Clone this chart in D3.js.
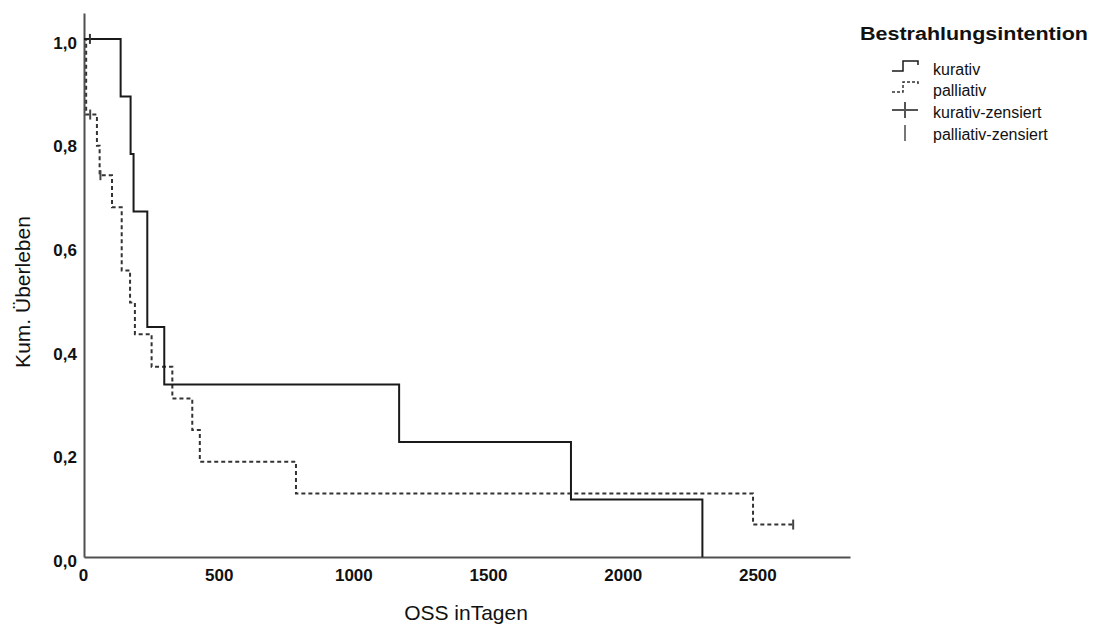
<!DOCTYPE html>
<html>
<head>
<meta charset="utf-8">
<script src="https://cdn.jsdelivr.net/npm/d3@7"></script>
<style>
  body { margin: 0; background: #fff; }
  svg text { font-family: "Liberation Sans", Arial, sans-serif; fill: #111; }
</style>
</head>
<body>
<div id="chart"></div>
<script>
// Kaplan-Meier steps
var kurTimes = [0, 136, 173, 184, 235, 235, 298, 1170, 1808, 2296];
var kurSurv  = [1, 0.889, 0.778, 0.667, 0.556, 0.444, 0.333, 0.222, 0.111, 0];
var palTimes = [0, 8, 48, 58, 104, 140, 171, 189, 251, 328, 402, 430, 787, 2484, 2633];
var palSurv  = [1, 0.854, 0.794, 0.737, 0.675, 0.553, 0.491, 0.430, 0.367, 0.306, 0.245, 0.184, 0.1225, 0.0626, 0.0626];

// censored cases
var kurCensTimes = [22];
var kurCensSurv  = [1];
var palCensTimes = [23, 61, 2633];
var palCensSurv  = [0.854, 0.737, 0.0626];

var xTicks = [0, 500, 1000, 1500, 2000, 2500];
var yTicks = [0, 0.2, 0.4, 0.6, 0.8, 1.0];
var legendLabels = ['kurativ', 'palliativ', 'kurativ-zensiert', 'palliativ-zensiert'];

var W = 1095, H = 628;
var plot = { left: 84, right: 850, top: 13, bottom: 557 };

var svg = d3.select('#chart')
  .append('svg')
  .attr('width', W)
  .attr('height', H);

//scales
var xScale = d3.scaleLinear()
  .domain([0, 2844])
  .range([plot.left, plot.right]);

var yScale = d3.scaleLinear()
  .domain([0, 1.05])
  .range([plot.bottom, plot.top]);

var fmt = function (d) { return d3.format('.1f')(d).replace('.', ','); };

//y axis
var axisY = d3.axisLeft(yScale)
  .tickValues(yTicks)
  .tickSize(0)
  .tickPadding(7)
  .tickFormat(fmt);

var gy = svg.append('g')
  .attr('transform', 'translate(' + plot.left + ',0)')
  .call(axisY);
gy.selectAll('text')
  .attr('dy', '0.72em')
  .attr('y', -3)
  .style('font-size', '17px')
  .style('font-weight', 'bold');

//x axis
var axisX = d3.axisBottom(xScale)
  .tickValues(xTicks)
  .tickSize(0)
  .tickPadding(12)
  .tickFormat(d3.format('d'));

var gx = svg.append('g')
  .attr('transform', 'translate(0,' + plot.bottom + ')')
  .call(axisX);
gx.selectAll('text')
  .style('font-size', '17px')
  .style('font-weight', 'bold');
gx.selectAll('.tick').filter(function (d) { return d === 0; })
  .select('text').attr('x', -1);

svg.selectAll('.domain')
  .attr('stroke', '#505050')
  .attr('stroke-width', 2);

//axis titles
svg.append('text')
  .attr('x', (plot.left + plot.right) / 2 - 1)
  .attr('y', 620)
  .attr('text-anchor', 'middle')
  .style('font-size', '21px')
  .text('OSS inTagen');

svg.append('text')
  .attr('transform', 'translate(30,' + 292 + ') rotate(-90)')
  .attr('text-anchor', 'middle')
  .style('font-size', '21px')
  .text('Kum. Überleben');

//curves
var step = d3.line()
  .x(function (d) { return xScale(d[0]); })
  .y(function (d) { return yScale(d[1]); })
  .curve(d3.curveStepAfter);

var kurData = d3.zip(kurTimes, kurSurv);
var palData = d3.zip(palTimes, palSurv);

svg.append('path')
  .attr('d', step(palData))
  .attr('fill', 'none')
  .attr('stroke', '#333')
  .attr('stroke-width', 2)
  .attr('stroke-dasharray', '4,3');

svg.append('path')
  .attr('d', step(kurData))
  .attr('fill', 'none')
  .attr('stroke', '#1a1a1a')
  .attr('stroke-width', 2);

//censor marks
svg.append('g')
  .selectAll('line')
  .data(d3.zip(kurCensTimes, kurCensSurv))
  .enter()
  .append('line')
  .attr('x1', function (d) { return xScale(d[0]); })
  .attr('x2', function (d) { return xScale(d[0]); })
  .attr('y1', function (d) { return yScale(d[1]) - 5; })
  .attr('y2', function (d) { return yScale(d[1]) + 5; })
  .attr('stroke', '#333')
  .attr('stroke-width', 2);

svg.append('g')
  .selectAll('line')
  .data(d3.zip(palCensTimes, palCensSurv))
  .enter()
  .append('line')
  .attr('x1', function (d) { return xScale(d[0]); })
  .attr('x2', function (d) { return xScale(d[0]); })
  .attr('y1', function (d) { return yScale(d[1]) - 5; })
  .attr('y2', function (d) { return yScale(d[1]) + 5; })
  .attr('stroke', '#444')
  .attr('stroke-width', 2);

//legend
var lg = svg.append('g').attr('class', 'legend');
lg.append('text')
  .attr('x', 860)
  .attr('y', 40)
  .attr('textLength', 228)
  .attr('lengthAdjust', 'spacingAndGlyphs')
  .style('font-size', '18px')
  .style('font-weight', 'bold')
  .text('Bestrahlungsintention');

var rowY = [69, 90, 112, 134];
lg.selectAll('text.item')
  .data(legendLabels)
  .enter()
  .append('text')
  .attr('class', 'item')
  .attr('x', 933)
  .attr('y', function (d, i) { return rowY[i]; })
  .attr('dy', '0.35em')
  .style('font-size', '16px')
  .text(function (d) { return d; });

// legend symbols
var stepSym = function (y) {
  return 'M892,' + (y + 2) + 'H903V' + (y - 8) + 'H918V' + (y - 4);
};
lg.append('path')
  .attr('d', stepSym(rowY[0]))
  .attr('fill', 'none').attr('stroke', '#1a1a1a').attr('stroke-width', 1.5);
lg.append('path')
  .attr('d', stepSym(rowY[1]))
  .attr('fill', 'none').attr('stroke', '#333').attr('stroke-width', 1.5)
  .attr('stroke-dasharray', '3,2');
lg.append('line')
  .attr('x1', 892).attr('x2', 918)
  .attr('y1', rowY[2] - 2).attr('y2', rowY[2] - 2)
  .attr('stroke', '#555').attr('stroke-width', 2);
lg.append('line')
  .attr('x1', 905).attr('x2', 905)
  .attr('y1', rowY[2] - 10).attr('y2', rowY[2] + 6)
  .attr('stroke', '#555').attr('stroke-width', 2);
lg.append('line')
  .attr('x1', 905).attr('x2', 905)
  .attr('y1', rowY[3] - 9).attr('y2', rowY[3] + 7)
  .attr('stroke', '#777').attr('stroke-width', 2);
</script>
</body>
</html>
